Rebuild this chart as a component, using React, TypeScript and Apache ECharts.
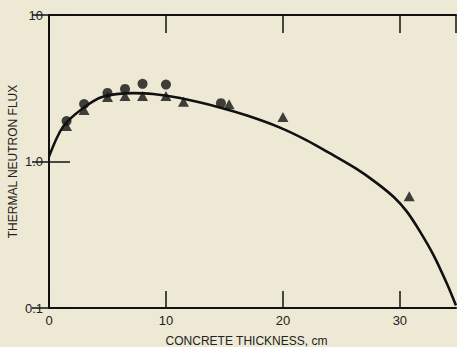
import React, { useEffect, useRef } from "react";
import * as echarts from "echarts";

// Fitted curve
const curveX = [0, 1.2, 2.9, 4.6, 7.2, 8.9, 11.2, 14.6, 17.0, 19.7, 22.0, 24.0, 26.3, 28.0, 29.5, 30.6, 31.7, 32.9, 34.0, 34.8];
const curveY = [1.08, 1.73, 2.31, 2.77, 2.93, 2.89, 2.71, 2.34, 2.05, 1.71, 1.4, 1.14, 0.89, 0.715, 0.57, 0.455, 0.335, 0.228, 0.148, 0.104];

// Measured points: circles
const circleX = [1.5, 3, 5, 6.5, 8, 10, 14.7];
const circleY = [1.89, 2.47, 2.94, 3.13, 3.39, 3.35, 2.5];

// Measured points: triangles
const triX = [1.5, 3, 5, 6.5, 8, 10, 11.5, 15.4, 20, 30.8];
const triY = [1.75, 2.25, 2.76, 2.8, 2.8, 2.8, 2.56, 2.46, 2.01, 0.58];

const xTicks = [0, 10, 20, 30];
const yTickValues = [0.1, 1, 10];
const yTickLabels = ["0.1", "1.0", "10"];

const FONT = "Liberation Sans, Arial, Helvetica, sans-serif";
const INK = "#111";
const BG = "#EDE9D4";

export default function App() {
  const ref = useRef<HTMLDivElement>(null);
  useEffect(() => {
    if (!ref.current) return;
    const chart = echarts.init(ref.current, undefined, { renderer: "svg" });
    const zip = (xs: number[], ys: number[]) => xs.map((x, i) => [x, ys[i]]);
    chart.setOption({
      animation: false,
      backgroundColor: BG,
      grid: {
        left: 49,
        top: 15,
        width: 407,
        height: 293,
        containLabel: false,
        outerBoundsMode: "none",
      },
      xAxis: [
        {
          type: "value",
          position: "bottom",
          min: 0,
          max: 34.8,
          interval: 10,
          splitLine: { show: false },
          axisLine: { show: true, lineStyle: { color: INK, width: 2 } },
          axisTick: { show: true, inside: true, length: 17, lineStyle: { color: INK, width: 1.5 } },
          axisLabel: {
            color: "#222",
            fontFamily: FONT,
            fontSize: 13,
            margin: 6,
            showMaxLabel: false,
            formatter: (v: number) => (xTicks.includes(v) ? String(v) : ""),
          },
          name: "CONCRETE THICKNESS, cm",
          nameLocation: "middle",
          nameGap: 27,
          nameMoveOverlap: false,
          nameTextStyle: {
            color: "#222",
            fontFamily: FONT,
            fontSize: 12,
            lineHeight: 12,
            padding: [0, 12, 0, 0],
          },
        },
        {
          type: "value",
          position: "top",
          min: 0,
          max: 34.8,
          interval: 10,
          splitLine: { show: false },
          axisLine: { show: true, lineStyle: { color: INK, width: 2 } },
          axisTick: { show: true, inside: true, length: 18, lineStyle: { color: INK, width: 1.5 } },
          axisLabel: { show: false },
        },
      ],
      yAxis: [
        {
          type: "log",
          logBase: 10,
          position: "left",
          min: 0.1,
          max: 10,
          splitLine: { show: false },
          minorTick: { show: false },
          axisLine: { show: true, lineStyle: { color: INK, width: 2 } },
          axisTick: { show: true, inside: true, length: 21, lineStyle: { color: INK, width: 1.5 } },
          axisLabel: { show: false },
          name: "THERMAL NEUTRON FLUX",
          nameLocation: "middle",
          nameGap: 30,
          nameMoveOverlap: false,
          nameTextStyle: { color: "#222", fontFamily: FONT, fontSize: 12, lineHeight: 12 },
        },
        {
          type: "log",
          logBase: 10,
          position: "right",
          min: 0.1,
          max: 10,
          splitLine: { show: false },
          axisLine: { show: true, lineStyle: { color: INK, width: 2 } },
          axisTick: { show: true, inside: true, length: 17, lineStyle: { color: INK, width: 1.5 } },
          axisLabel: { show: false },
        },
      ],
      series: [
        {
          type: "line",
          data: zip(curveX, curveY),
          smooth: 0.3,
          showSymbol: false,
          symbol: "none",
          lineStyle: { color: INK, width: 2.6 },
          z: 2,
        },
        {
          type: "scatter",
          data: zip(triX, triY),
          symbol: "triangle",
          symbolSize: [11, 10],
          itemStyle: { color: INK },
          z: 3,
        },
        {
          type: "scatter",
          data: zip(circleX, circleY),
          symbol: "circle",
          symbolSize: 10,
          itemStyle: { color: INK },
          z: 4,
        },
      ],
    });
    // y tick labels placed through the axis' own scale
    const labels = yTickValues.map((v, i) => {
      const py = chart.convertToPixel({ yAxisIndex: 0 }, v) as number;
      return {
        type: "text",
        x: 43,
        y: py,
        silent: true,
        style: {
          text: yTickLabels[i],
          align: "right",
          verticalAlign: "middle",
          fontSize: 13,
          fontFamily: FONT,
          fill: "#222",
        },
      };
    });
    chart.setOption({ graphic: labels });
    return () => chart.dispose();
  }, []);
  return (
    <div
      ref={ref}
      style={{ position: "absolute", left: 0, top: 0, width: 457, height: 347 }}
    />
  );
}
